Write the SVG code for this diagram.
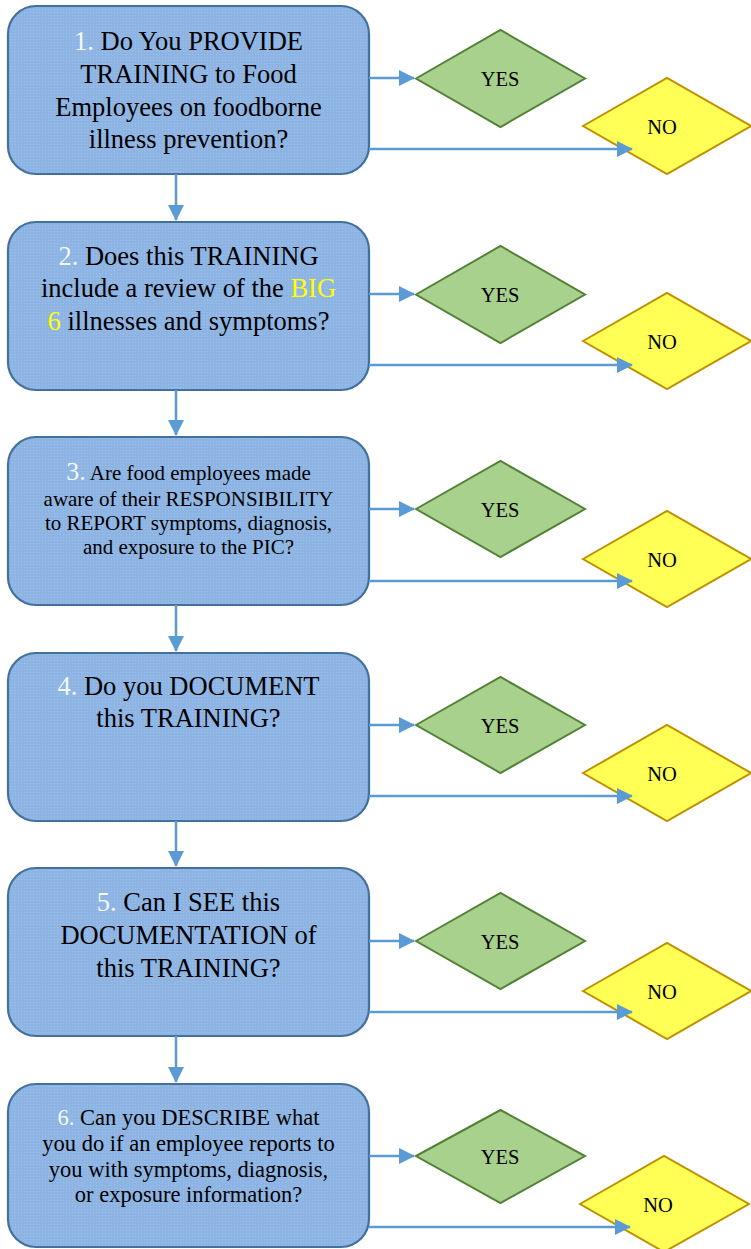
<svg xmlns="http://www.w3.org/2000/svg" width="751" height="1249" viewBox="0 0 751 1249">
<style>
.box{fill:url(#tex);stroke:#41719C;stroke-width:2.2}
.yes{fill:#A9D18E;stroke:#538135;stroke-width:2}
.no{fill:#FFFF55;stroke:#BF9000;stroke-width:2}
.t{font-family:"Liberation Serif","Times New Roman",serif;fill:#000;text-anchor:middle}
.big{font-size:26.5px}
.sm{font-size:21px}
.md{font-size:22.5px}
.dl{font-family:"Liberation Serif","Times New Roman",serif;font-size:20.5px;fill:#000;text-anchor:middle}
.n{fill:#F4F8FC}
.y{fill:#FFFF00}
.c{fill:none;stroke:#5B9BD5;stroke-width:2.5}
</style>
<defs>
<pattern id="tex" width="3" height="3" patternUnits="userSpaceOnUse">
<rect width="3" height="3" fill="#8DB4E2"/>
<rect width="1" height="1" fill="#9CC0EA"/>
</pattern>
<marker id="ah" markerWidth="16" markerHeight="16" refX="15" refY="8" orient="auto" markerUnits="userSpaceOnUse">
<path d="M0,0 L16,8 L0,16 Z" fill="#5B9BD5"/>
</marker>
</defs>

<g id="q1">
<rect class="box" x="8" y="6" width="361" height="168" rx="28"/>
<text class="t big" x="188.5" y="50"><tspan class="n">1.</tspan> Do You PROVIDE</text>
<text class="t big" x="188.5" y="83">TRAINING to Food</text>
<text class="t big" x="188.5" y="116">Employees on foodborne</text>
<text class="t big" x="188.5" y="148">illness prevention?</text>
</g>
<g id="yes1"><polygon class="yes" points="416,78.5 500.5,30 585,78.5 500.5,127"/><text class="dl" x="500" y="86">YES</text></g>
<g id="no1"><polygon class="no" points="583,126 667,78 751,126 667,174"/><text class="dl" x="662" y="134">NO</text></g>

<g id="q2">
<rect class="box" x="8" y="222" width="361" height="168" rx="28"/>
<text class="t big" x="188.5" y="265"><tspan class="n">2.</tspan> Does this TRAINING</text>
<text class="t big" x="188.5" y="297">include a review of the <tspan class="y">BIG</tspan></text>
<text class="t big" x="188.5" y="330"><tspan class="y">6</tspan> illnesses and symptoms?</text>
</g>
<g id="yes2"><polygon class="yes" points="416,294.5 500.5,246 585,294.5 500.5,343"/><text class="dl" x="500" y="302">YES</text></g>
<g id="no2"><polygon class="no" points="583,341 667,293 751,341 667,389"/><text class="dl" x="662" y="349">NO</text></g>

<g id="q3">
<rect class="box" x="8" y="437" width="361" height="168" rx="28"/>
<text class="t sm" x="188.5" y="480"><tspan class="n" font-size="26px">3.</tspan> Are food employees made</text>
<text class="t sm" x="188.5" y="506">aware of their RESPONSIBILITY</text>
<text class="t sm" x="188.5" y="530">to REPORT symptoms, diagnosis,</text>
<text class="t sm" x="188.5" y="554">and exposure to the PIC?</text>
</g>
<g id="yes3"><polygon class="yes" points="416,509 500.5,461 585,509 500.5,557"/><text class="dl" x="500" y="517">YES</text></g>
<g id="no3"><polygon class="no" points="583,559 667,511 751,559 667,607"/><text class="dl" x="662" y="567">NO</text></g>

<g id="q4">
<rect class="box" x="8" y="653" width="361" height="168" rx="28"/>
<text class="t big" x="188.5" y="695"><tspan class="n">4.</tspan> Do you DOCUMENT</text>
<text class="t big" x="188.5" y="727">this TRAINING?</text>
</g>
<g id="yes4"><polygon class="yes" points="416,725 500.5,677 585,725 500.5,773"/><text class="dl" x="500" y="733">YES</text></g>
<g id="no4"><polygon class="no" points="583,773 667,725 751,773 667,821"/><text class="dl" x="662" y="781">NO</text></g>

<g id="q5">
<rect class="box" x="8" y="868" width="361" height="168" rx="28"/>
<text class="t big" x="188.5" y="911"><tspan class="n">5.</tspan> Can I SEE this</text>
<text class="t big" x="188.5" y="944">DOCUMENTATION of</text>
<text class="t big" x="188.5" y="977">this TRAINING?</text>
</g>
<g id="yes5"><polygon class="yes" points="416,941 500.5,893 585,941 500.5,989"/><text class="dl" x="500" y="949">YES</text></g>
<g id="no5"><polygon class="no" points="583,991 667,943 751,991 667,1039"/><text class="dl" x="662" y="999">NO</text></g>

<g id="q6">
<rect class="box" x="8" y="1084" width="361" height="163" rx="28"/>
<text class="t md" x="188.5" y="1125"><tspan class="n">6.</tspan> Can you DESCRIBE what</text>
<text class="t md" x="188.5" y="1151">you do if an employee reports to</text>
<text class="t md" x="188.5" y="1177">you with symptoms, diagnosis,</text>
<text class="t md" x="188.5" y="1202">or exposure information?</text>
</g>
<g id="yes6"><polygon class="yes" points="416,1156 500.5,1110 585,1156 500.5,1203"/><text class="dl" x="500" y="1164">YES</text></g>
<g id="no6"><polygon class="no" points="580,1204 664,1156 749,1204 664,1252"/><text class="dl" x="658" y="1212">NO</text></g>

<g id="connectors">
<path class="c" d="M369,78 H414" marker-end="url(#ah)"/>
<path class="c" d="M369,149 H632" marker-end="url(#ah)"/>
<path class="c" d="M176,174 V220" marker-end="url(#ah)"/>

<path class="c" d="M369,294 H414" marker-end="url(#ah)"/>
<path class="c" d="M369,365 H632" marker-end="url(#ah)"/>
<path class="c" d="M176,390 V435" marker-end="url(#ah)"/>

<path class="c" d="M369,509 H414" marker-end="url(#ah)"/>
<path class="c" d="M369,581 H632" marker-end="url(#ah)"/>
<path class="c" d="M176,605 V651" marker-end="url(#ah)"/>

<path class="c" d="M369,725 H414" marker-end="url(#ah)"/>
<path class="c" d="M369,796 H632" marker-end="url(#ah)"/>
<path class="c" d="M176,821 V866" marker-end="url(#ah)"/>

<path class="c" d="M369,941 H414" marker-end="url(#ah)"/>
<path class="c" d="M369,1012 H632" marker-end="url(#ah)"/>
<path class="c" d="M176,1036 V1082" marker-end="url(#ah)"/>

<path class="c" d="M369,1156 H414" marker-end="url(#ah)"/>
<path class="c" d="M369,1227 H630" marker-end="url(#ah)"/>
</g>
</svg>
